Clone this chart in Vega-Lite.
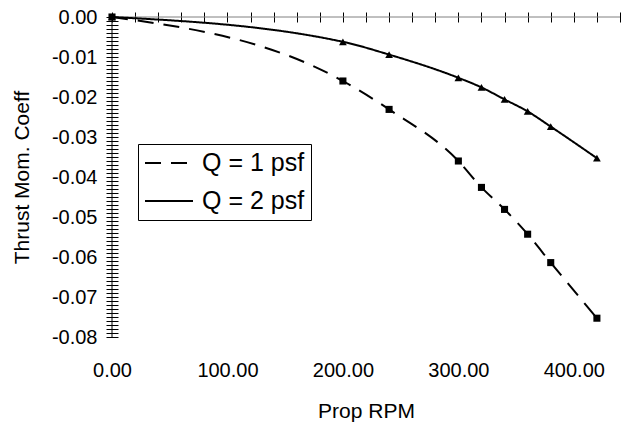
{
  "$schema": "https://vega.github.io/schema/vega-lite/v6.json",
  "autosize": {"type": "none"},
  "padding": {"left": 112, "top": 17, "right": 6, "bottom": 86},
  "width": 508,
  "height": 320,
  "background": "#ffffff",
  "config": {
    "view": {"stroke": null},
    "font": "Liberation Sans",
    "axis": {"labelFont": "Liberation Sans", "titleFont": "Liberation Sans", "labelColor": "#000000", "titleColor": "#000000", "titleFontWeight": "normal", "grid": false, "tickColor": "#000000", "domainColor": "#000000"},
    "legend": {"labelFont": "Liberation Sans", "labelColor": "#000000"}
  },
  "data": {
    "values": [
      {"rpm": 0, "coeff": 0, "series": "Q = 1 psf"},
      {"rpm": 200, "coeff": -0.016, "series": "Q = 1 psf"},
      {"rpm": 240, "coeff": -0.0231, "series": "Q = 1 psf"},
      {"rpm": 300, "coeff": -0.036, "series": "Q = 1 psf"},
      {"rpm": 320, "coeff": -0.0426, "series": "Q = 1 psf"},
      {"rpm": 340, "coeff": -0.0481, "series": "Q = 1 psf"},
      {"rpm": 360, "coeff": -0.0543, "series": "Q = 1 psf"},
      {"rpm": 380, "coeff": -0.0614, "series": "Q = 1 psf"},
      {"rpm": 420, "coeff": -0.0753, "series": "Q = 1 psf"},
      {"rpm": 0, "coeff": 0, "series": "Q = 2 psf"},
      {"rpm": 200, "coeff": -0.0062, "series": "Q = 2 psf"},
      {"rpm": 240, "coeff": -0.0094, "series": "Q = 2 psf"},
      {"rpm": 300, "coeff": -0.0152, "series": "Q = 2 psf"},
      {"rpm": 320, "coeff": -0.0176, "series": "Q = 2 psf"},
      {"rpm": 340, "coeff": -0.0206, "series": "Q = 2 psf"},
      {"rpm": 360, "coeff": -0.0236, "series": "Q = 2 psf"},
      {"rpm": 380, "coeff": -0.0274, "series": "Q = 2 psf"},
      {"rpm": 420, "coeff": -0.0353, "series": "Q = 2 psf"}
    ]
  },
  "layer": [
    {
      "data": {"values": [{"edge": "y"}]},
      "mark": {"type": "rule", "color": "#000000", "strokeWidth": 1},
      "encoding": {
        "x": {"datum": 0, "type": "quantitative", "axis": null},
        "y": {"datum": 0, "type": "quantitative", "axis": null},
        "y2": {"datum": -0.08}
      }
    },
    {
      "data": {"values": [{"edge": "x"}]},
      "mark": {"type": "rule", "color": "#808080", "strokeWidth": 1},
      "encoding": {
        "x": {"datum": 0, "type": "quantitative", "axis": null},
        "x2": {"datum": 440},
        "y": {"datum": 0, "type": "quantitative", "axis": null}
      }
    },
    {
      "mark": {"type": "line", "interpolate": "monotone", "color": "#000000", "strokeWidth": 2},
      "encoding": {
        "x": {
          "field": "rpm", "type": "quantitative",
          "scale": {"domain": [0, 440], "nice": false},
          "axis": {"orient": "top", "values": [0,20,40,60,80,100,120,140,160,180,200,220,240,260,280,300,320,340,360,380,400,420,440], "labels": false, "domain": false, "tickSize": 10, "offset": -5, "tickWidth": 1, "title": null}
        },
        "y": {
          "field": "coeff", "type": "quantitative",
          "scale": {"domain": [-0.08, 0], "nice": false},
          "axis": {
            "orient": "left",
            "values": [0,-0.001,-0.002,-0.003,-0.004,-0.005,-0.006,-0.007,-0.008,-0.009,-0.01,-0.011,-0.012,-0.013,-0.014,-0.015,-0.016,-0.017,-0.018,-0.019,-0.02,-0.021,-0.022,-0.023,-0.024,-0.025,-0.026,-0.027,-0.028,-0.029,-0.03,-0.031,-0.032,-0.033,-0.034,-0.035,-0.036,-0.037,-0.038,-0.039,-0.04,-0.041,-0.042,-0.043,-0.044,-0.045,-0.046,-0.047,-0.048,-0.049,-0.05,-0.051,-0.052,-0.053,-0.054,-0.055,-0.056,-0.057,-0.058,-0.059,-0.06,-0.061,-0.062,-0.063,-0.064,-0.065,-0.066,-0.067,-0.068,-0.069,-0.07,-0.071,-0.072,-0.073,-0.074,-0.075,-0.076,-0.077,-0.078,-0.079,-0.08],
            "labelExpr": "abs(round(datum.value*1000)) % 10 == 0 ? ((datum.value < -0.0001 ? '-' : '') + format(abs(datum.value), '.2f')) : ''",
            "labelOverlap": false,
            "labelFlush": false,
            "labelFontSize": 20,
            "labelPadding": 9,
            "domain": false,
            "tickSize": 12,
            "offset": -6,
            "tickWidth": 1,
            "title": "Thrust Mom.  Coeff",
            "titleFontSize": 21,
            "titlePadding": 19
          }
        },
        "strokeDash": {
          "field": "series", "type": "nominal",
          "scale": {"domain": ["Q = 1 psf", "Q = 2 psf"], "range": [[16, 10], [1, 0]]},
          "legend": {
            "orient": "none", "legendX": 26, "legendY": 127, "title": null,
            "strokeColor": "#000000", "fillColor": "#ffffff", "padding": 6,
            "symbolType": "M -1 0 L 3 0", "symbolStrokeWidth": 2, "symbolStrokeColor": "#000000", "symbolSize": 576,
            "labelFontSize": 25, "labelOffset": 32, "rowPadding": 12,
            "labelExpr": "datum.label + '  '"
          }
        }
      }
    },
    {
      "transform": [{"filter": "datum.series == 'Q = 1 psf'"}],
      "mark": {"type": "square", "color": "#000000", "opacity": 1, "size": 50},
      "encoding": {
        "x": {
          "field": "rpm", "type": "quantitative",
          "axis": {"orient": "bottom", "values": [0, 100, 200, 300, 400], "format": ".2f", "ticks": false, "tickSize": 0, "domain": false, "labelFlush": false, "labelFontSize": 20, "labelPadding": 23, "title": "Prop RPM", "titleFontSize": 21, "titlePadding": 20}
        },
        "y": {"field": "coeff", "type": "quantitative", "axis": null}
      }
    },
    {
      "transform": [{"filter": "datum.series == 'Q = 2 psf'"}],
      "mark": {"type": "point", "shape": "triangle-up", "filled": true, "color": "#000000", "opacity": 1, "size": 60},
      "encoding": {
        "x": {"field": "rpm", "type": "quantitative", "axis": null},
        "y": {"field": "coeff", "type": "quantitative", "axis": null}
      }
    }
  ],
  "resolve": {"axis": {"x": "independent", "y": "independent"}}
}
